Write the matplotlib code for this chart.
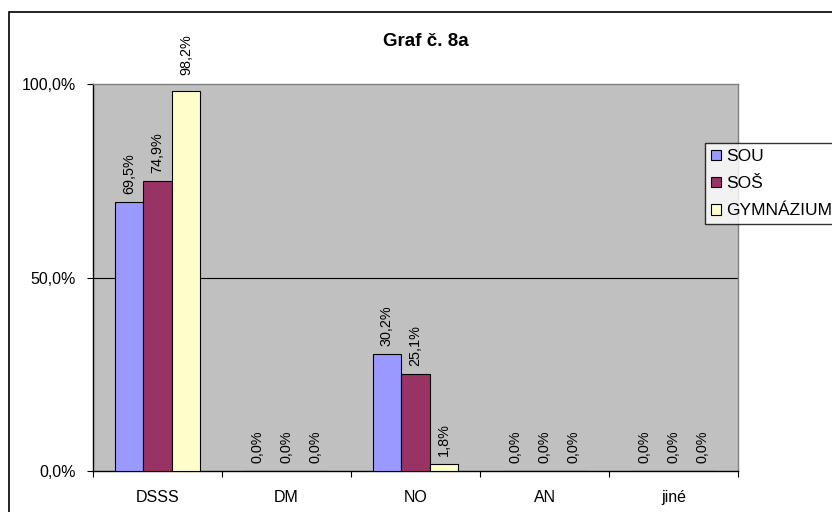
import matplotlib
matplotlib.use("Agg")
import matplotlib.pyplot as plt
from matplotlib.patches import Rectangle
import numpy as np

plt.rcParams['font.family'] = ['Liberation Sans', 'DejaVu Sans']

categories = ["DSSS", "DM", "NO", "AN", "jiné"]
series_names = ["SOU", "SOŠ", "GYMNÁZIUM"]
sou = [69.5, 0.0, 30.2, 0.0, 0.0]
sos = [74.9, 0.0, 25.1, 0.0, 0.0]
gym = [98.2, 0.0, 1.8, 0.0, 0.0]
colors = ["#9999FF", "#993366", "#FFFFCC"]
title = "Graf č. 8a"

W, H = 832, 512
fig = plt.figure(figsize=(W / 100, H / 100), dpi=100)

# outer chart border
fig.patches.append(Rectangle((9 / W, -0.1), 1.2, (H - 12) / H + 0.1,
                             transform=fig.transFigure, fill=False,
                             edgecolor="black", linewidth=1.2, zorder=0))

L, R, T, B = 93, 738, 84, 471
ax = fig.add_axes([L / W, (H - B) / H, (R - L) / W, (B - T) / H])
ax.set_facecolor("#C0C0C0")

x = np.arange(len(categories))
bw = 0.222
offsets = [-bw, 0, bw]
for vals, name, c, off in zip([sou, sos, gym], series_names, colors, offsets):
    ax.bar(x + off, vals, width=bw, color=c, edgecolor="black",
           linewidth=0.8, label=name, zorder=3)
    for xi, v in zip(x + off, vals):
        # labels near the top are pushed above the plot area (as Excel does)
        dy = 11.5 if v > 90 else 5.5
        ax.annotate(f"{v:.1f}%".replace(".", ","), (xi, v),
                    xytext=(0, dy), textcoords="offset points",
                    rotation=90, ha="center", va="bottom", fontsize=10.4,
                    annotation_clip=False)

ax.set_xlim(-0.5, len(categories) - 0.5)
ax.set_ylim(0, 100)
ax.set_yticks([0, 50, 100])
ax.set_yticklabels(["0,0%", "50,0%", "100,0%"], fontsize=11.5)
ax.axhline(50, color="black", linewidth=0.8, zorder=1)

ax.set_xticks(np.arange(-0.5, len(categories), 1.0))
ax.set_xticklabels([])
ax.set_xticks(x, minor=True)
ax.set_xticklabels(categories, minor=True, fontsize=11.5)
ax.tick_params(axis="x", which="major", length=4.5, direction="out", width=0.8)
ax.tick_params(axis="x", which="minor", length=0, pad=14)
ax.tick_params(axis="y", length=4.5, width=0.8, pad=8)

for s in ["top", "right"]:
    ax.spines[s].set_color("#808080")
    ax.spines[s].set_linewidth(1.0)
for s in ["left", "bottom"]:
    ax.spines[s].set_color("black")
    ax.spines[s].set_linewidth(1.0)

fig.text(426 / W, 1 - 42 / H, title, ha="center", va="center",
         fontsize=13.5, fontweight="bold")

leg = fig.legend(loc="upper left", bbox_to_anchor=(705 / W, 1 - 143 / H),
                 frameon=True, fancybox=False, fontsize=12.5,
                 handlelength=0.57, handleheight=0.57, handletextpad=0.3,
                 borderpad=0.35, labelspacing=0.7, borderaxespad=0)
leg.get_frame().set_edgecolor("black")
leg.get_frame().set_linewidth(1.0)

fig.savefig("out.png", dpi=100)
